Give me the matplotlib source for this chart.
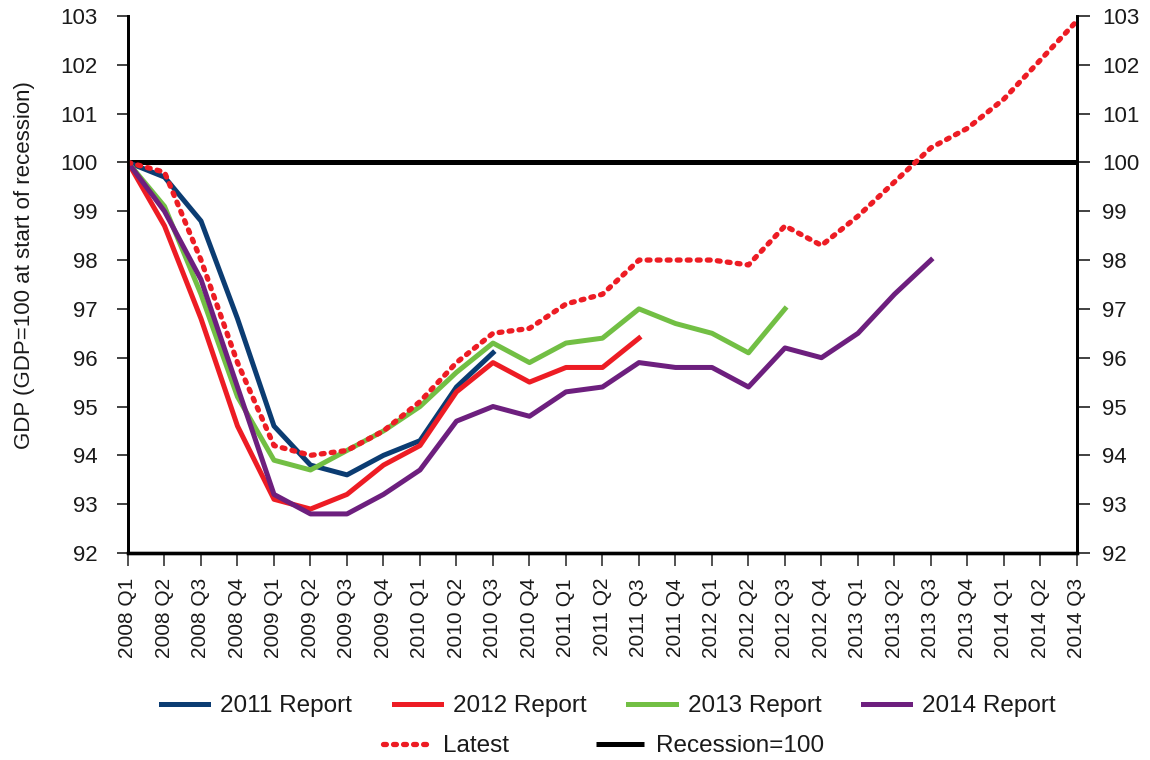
import matplotlib
matplotlib.use('Agg')
import matplotlib.pyplot as plt

plt.rcParams['font.family'] = ['Liberation Sans', 'DejaVu Sans']

quarters = ['2008 Q1', '2008 Q2', '2008 Q3', '2008 Q4',
            '2009 Q1', '2009 Q2', '2009 Q3', '2009 Q4',
            '2010 Q1', '2010 Q2', '2010 Q3', '2010 Q4',
            '2011 Q1', '2011 Q2', '2011 Q3', '2011 Q4',
            '2012 Q1', '2012 Q2', '2012 Q3', '2012 Q4',
            '2013 Q1', '2013 Q2', '2013 Q3', '2013 Q4',
            '2014 Q1', '2014 Q2', '2014 Q3']

report_2011 = [100, 99.7, 98.8, 96.8, 94.6, 93.8, 93.6, 94.0, 94.3, 95.4, 96.1]
report_2012 = [100, 98.7, 96.8, 94.6, 93.1, 92.9, 93.2, 93.8, 94.2, 95.3, 95.9,
               95.5, 95.8, 95.8, 96.4]
report_2013 = [100, 99.1, 97.3, 95.2, 93.9, 93.7, 94.1, 94.5, 95.0, 95.7, 96.3,
               95.9, 96.3, 96.4, 97.0, 96.7, 96.5, 96.1, 97.0]
report_2014 = [100, 99.0, 97.6, 95.4, 93.2, 92.8, 92.8, 93.2, 93.7, 94.7, 95.0,
               94.8, 95.3, 95.4, 95.9, 95.8, 95.8, 95.4, 96.2, 96.0, 96.5, 97.3, 98.0]
latest = [100, 99.8, 98.0, 95.9, 94.2, 94.0, 94.1, 94.5, 95.1, 95.9, 96.5,
          96.6, 97.1, 97.3, 98.0, 98.0, 98.0, 97.9, 98.7, 98.3, 98.9, 99.6,
          100.3, 100.7, 101.3, 102.1, 102.9]
recession = 100

fig = plt.figure(figsize=(11.5, 7.6), dpi=100)
ax = fig.add_axes([0.1113, 0.2724, 0.8252, 0.7066])

x = list(range(len(quarters)))
txt = '#1a1a1a'
lw = 3.6

# recession line
ax.plot([0, len(quarters) - 1], [recession, recession], color='black', lw=lw,
        solid_capstyle='butt', label='Recession=100', zorder=2)

navy, red, green, purple = '#0b3c72', '#ed1c24', '#72bf44', '#6d1f7e'
ax.plot(x[:len(report_2011)], report_2011, color=navy, lw=lw, label='2011 Report', zorder=3)
ax.plot(x[:len(report_2012)], report_2012, color=red, lw=lw, label='2012 Report', zorder=3)
ax.plot(x[:len(report_2013)], report_2013, color=green, lw=lw, label='2013 Report', zorder=3)
ax.plot(x[:len(report_2014)], report_2014, color=purple, lw=lw, label='2014 Report', zorder=3)
ax.plot(x, latest, color=red, lw=3.8, linestyle=(0, (0.55, 1.35)),
        dash_capstyle='round', label='Latest', zorder=4)

ax.set_xlim(0, len(quarters) - 1)
ax.set_ylim(92, 103)
ax.set_yticks(range(92, 104))
ax.set_xticks(x)
ax.set_xticklabels(quarters, rotation=90, fontsize=15, color=txt)
ax.tick_params(axis='y', labelsize=16, labelcolor=txt, length=8, width=1.3,
               colors='#333333', direction='out', pad=14)
ax.tick_params(axis='y', labelcolor=txt)
ax.tick_params(axis='x', length=9, width=1.3, color='#444444', pad=9)

# right hand axis, same scale
ax2 = ax.twinx()
ax2.set_ylim(ax.get_ylim())
ax2.set_yticks(range(92, 104))
ax2.tick_params(axis='y', labelsize=16, labelcolor=txt, length=9, width=1.3,
                colors='#333333', direction='out', pad=9)
ax2.tick_params(axis='y', labelcolor=txt)

for a in [ax, ax2]:
    for s in ['left', 'right']:
        a.spines[s].set_linewidth(2)
        a.spines[s].set_color('black')
    a.spines['top'].set_visible(False)
    a.spines['bottom'].set_color('black')
    a.spines['bottom'].set_linewidth(2.4)

ax.set_ylabel('GDP (GDP=100 at start of recession)', fontsize=16, color=txt)
ax.yaxis.set_label_coords(-0.098, 0.536)

handles, labels = ax.get_legend_handles_labels()
hmap = dict(zip(labels, handles))
leg1 = fig.legend([hmap[k] for k in ['2011 Report', '2012 Report', '2013 Report', '2014 Report']],
                  ['2011 Report', '2012 Report', '2013 Report', '2014 Report'],
                  loc='center', bbox_to_anchor=(0.529, 0.071), ncol=4, frameon=False,
                  fontsize=17.5, handlelength=1.95, columnspacing=1.7, handletextpad=0.5,
                  labelcolor=txt)
leg2 = fig.legend([hmap['Latest'], hmap['Recession=100']], ['Latest', 'Recession=100'],
                  loc='center', bbox_to_anchor=(0.525, 0.018), ncol=2, frameon=False,
                  fontsize=17.5, handlelength=1.95, columnspacing=3.6, handletextpad=0.5,
                  labelcolor=txt)

fig.savefig('out.png', dpi=100)
